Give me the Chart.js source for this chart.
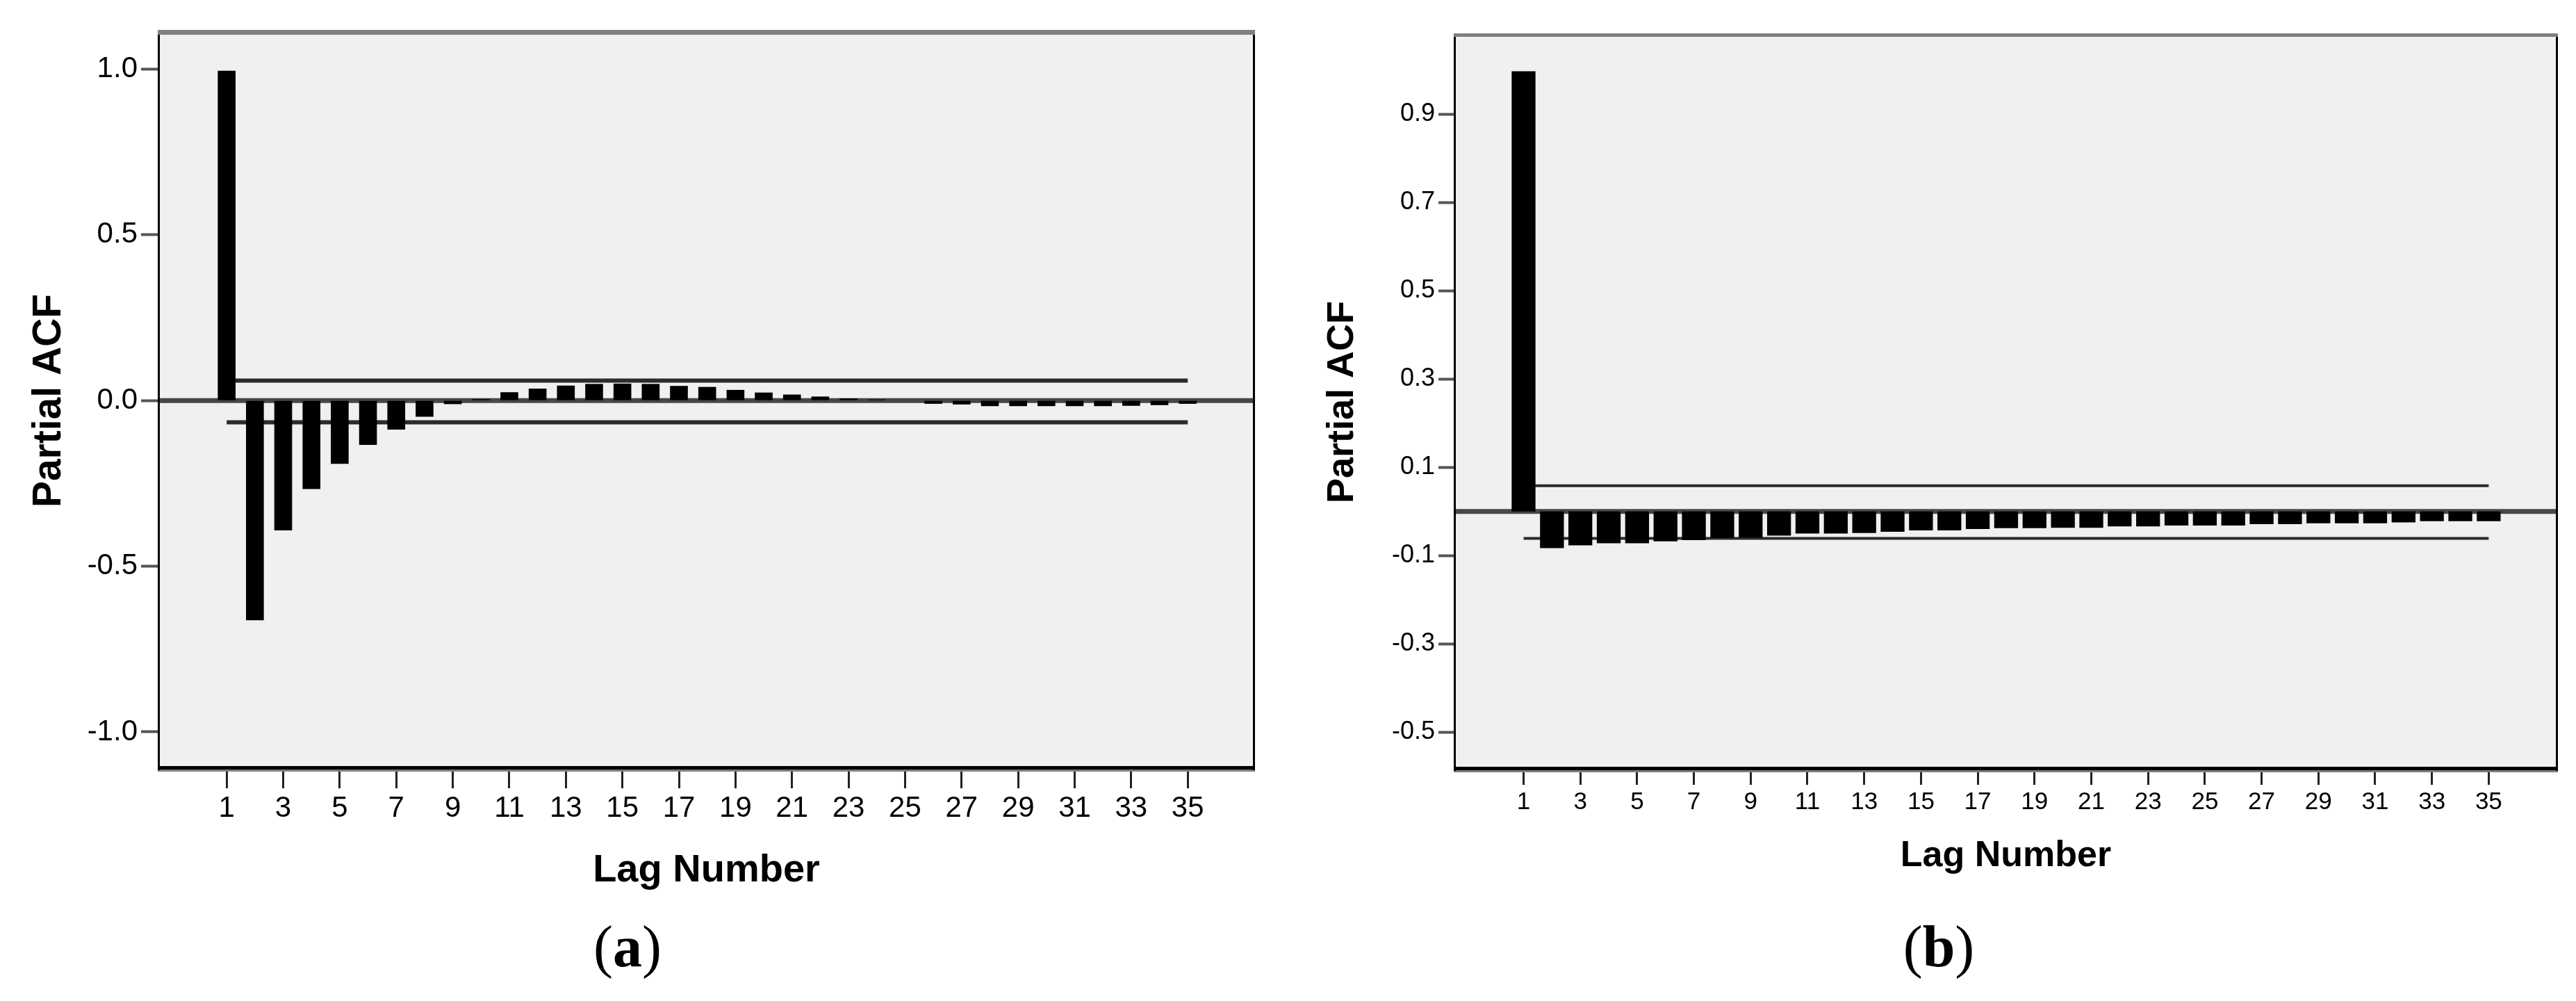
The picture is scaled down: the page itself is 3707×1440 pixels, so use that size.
<!DOCTYPE html>
<html>
<head>
<meta charset="utf-8">
<title>Partial ACF — (a) and (b)</title>
<script src="https://cdn.jsdelivr.net/npm/chart.js@4/dist/chart.umd.min.js"></script>
<style>
  html, body { margin: 0; padding: 0; background: #fff; }
  #page { position: relative; width: 3707px; height: 1440px; overflow: hidden; }
  canvas { position: absolute; top: 0; }
  #chart-a { left: 0; }
  #chart-b { left: 1850px; }
  .cap { position: absolute; top: 1319px; width: 200px; text-align: center;
         font: 84px/86px 'Liberation Serif', 'Times New Roman', serif; color: #000; }
</style>
</head>
<body>
<div id="page">
  <canvas id="chart-a" width="1850" height="1440"></canvas>
  <canvas id="chart-b" width="1857" height="1440"></canvas>
  <div class="cap" style="left:803px">(<b>a</b>)</div>
  <div class="cap" style="left:2690px">(<b>b</b>)</div>
</div>
<script>
// Lags shown on both panels, and the odd lags that carry a tick label.
const LAGS = [1, 2, 3, 4, 5, 6, 7, 8, 9, 10, 11, 12, 13, 14, 15, 16, 17, 18,
  19, 20, 21, 22, 23, 24, 25, 26, 27, 28, 29, 30, 31, 32, 33, 34, 35];
const X_TICKS = [1, 3, 5, 7, 9, 11, 13, 15, 17, 19, 21, 23, 25, 27, 29, 31, 33, 35];

// (a) partial autocorrelations.
const PACF_A = [0.995, -0.663, -0.392, -0.267, -0.191, -0.134, -0.088, -0.049, -0.011, 0.004,
  0.025, 0.036, 0.045, 0.050, 0.051, 0.050, 0.044, 0.041, 0.032, 0.024,
  0.018, 0.012, 0.006, 0.003, 0.001, -0.010, -0.012, -0.017, -0.017, -0.017,
  -0.017, -0.017, -0.016, -0.014, -0.010];
const CONF_A = [0.06, -0.066];           // upper / lower confidence limit
const Y_TICKS_A = [-1.0, -0.5, 0.0, 0.5, 1.0];

// (b) partial autocorrelations.
const PACF_B = [0.997, -0.083, -0.077, -0.072, -0.072, -0.068, -0.065, -0.060, -0.059, -0.055,
  -0.050, -0.050, -0.049, -0.046, -0.043, -0.043, -0.040, -0.038, -0.038, -0.037,
  -0.037, -0.034, -0.034, -0.032, -0.032, -0.032, -0.029, -0.029, -0.027, -0.027,
  -0.027, -0.025, -0.022, -0.022, -0.022];
const CONF_B = [0.058, -0.061];
const Y_TICKS_B = [-0.5, -0.3, -0.1, 0.1, 0.3, 0.5, 0.7, 0.9];

const SANS = "'Liberation Sans', Arial, Helvetica, sans-serif";

// SPSS-style plot frame: grey fill, grey top rule, black sides, black+grey bottom.
const spssFrame = {
  id: 'spssFrame',
  beforeDraw(chart) {
    const { ctx, chartArea: a } = chart;
    ctx.save();
    ctx.fillStyle = '#f0f0f0';
    ctx.fillRect(a.left, a.top, a.right - a.left, a.bottom - a.top);
    ctx.restore();
  },
  afterDraw(chart, args, o) {
    const { ctx, chartArea: a } = chart;
    const w = a.right - a.left + 4;
    ctx.save();
    ctx.fillStyle = '#7f7f7f';
    ctx.fillRect(a.left - 2, a.top - o.top, w, o.top);
    ctx.fillRect(a.left - 2, a.bottom + o.bottom - 1, w, 3);
    ctx.fillStyle = '#000';
    ctx.fillRect(a.left - 2, a.top, 3, a.bottom - a.top + o.bottom);
    ctx.fillRect(a.right - 1, a.top, 3, a.bottom - a.top + o.bottom);
    ctx.fillRect(a.left - 2, a.bottom - 1, w, o.bottom);
    ctx.restore();
  },
};

function hline(x0, x1, y, color, width, order) {
  return {
    type: 'line', data: [{ x: x0, y: y }, { x: x1, y: y }],
    borderColor: color, borderWidth: width, pointRadius: 0, order: order,
  };
}

function makeChart(id, p) {
  const first = LAGS[0], last = LAGS[LAGS.length - 1];
  return new Chart(document.getElementById(id), {
    type: 'bar',
    data: {
      datasets: [
        {
          type: 'bar', label: 'Partial ACF',
          data: LAGS.map((l, i) => ({ x: l, y: p.pacf[i] })),
          backgroundColor: '#000', borderWidth: 0,
          barPercentage: p.barPct, categoryPercentage: 1, order: 0,
        },
        hline(p.xMin, p.xMax, 0, '#474747', p.zeroW, 3),
        hline(first, last, p.conf[0], '#2b2b2b', p.confW, 2),
        hline(first, last, p.conf[1], '#2b2b2b', p.confW, 2),
      ],
    },
    options: {
      responsive: false,
      animation: false,
      devicePixelRatio: 1,
      layout: { padding: { left: 0, top: p.area.top, right: p.width - p.area.right, bottom: 0 } },
      plugins: {
        legend: { display: false },
        tooltip: { enabled: false },
        spssFrame: p.frame,
      },
      scales: {
        x: {
          type: 'linear', min: p.xMin, max: p.xMax, offset: false,
          afterBuildTicks: (s) => { s.ticks = X_TICKS.map((v) => ({ value: v })); },
          afterFit: (s) => { s.height = p.height - p.area.bottom; },
          grid: {
            offset: false, drawOnChartArea: false, drawTicks: true,
            tickLength: p.xTickLen, tickWidth: 3, tickColor: '#222',
          },
          border: { display: false },
          ticks: {
            padding: p.xTickPad, autoSkip: false, maxRotation: 0, color: '#000',
            font: { family: SANS, size: p.xTickSize, lineHeight: 1 },
            callback: (v) => String(v),
          },
          title: {
            display: true, text: 'Lag Number', color: '#000',
            font: { family: SANS, size: p.xTitleSize, weight: 'bold', lineHeight: 1 },
            padding: { top: 0, bottom: p.xTitlePad },
          },
        },
        y: {
          type: 'linear', min: p.yMin, max: p.yMax,
          afterBuildTicks: (s) => { s.ticks = p.yTicks.map((v) => ({ value: v })); },
          afterFit: (s) => { s.width = p.area.left; },
          grid: {
            offset: false, drawOnChartArea: false, drawTicks: true,
            tickLength: p.yTickLen, tickWidth: 4, tickColor: '#555',
          },
          border: { display: false },
          ticks: {
            padding: p.yTickPad, autoSkip: false, color: '#000',
            font: { family: SANS, size: p.yTickSize, lineHeight: 1 },
            callback: (v) => Number(v).toFixed(1),
          },
          title: {
            display: true, text: 'Partial ACF', color: '#000',
            font: { family: SANS, size: p.yTitleSize, weight: 'bold', lineHeight: 1 },
            padding: { top: p.yTitlePad, bottom: 0 },
          },
        },
      },
    },
    plugins: [spssFrame],
  });
}

makeChart('chart-a', {
  pacf: PACF_A, conf: CONF_A, yTicks: Y_TICKS_A,
  yMin: -1.105, yMax: 1.1035, xMin: -1.389, xMax: 37.33,
  width: 1850, height: 1440, area: { left: 229, top: 50, right: 1804, bottom: 1103 },
  frame: { top: 7, bottom: 5 },
  barPct: 0.63, zeroW: 7, confW: 6,
  xTickLen: 31, xTickPad: 8, xTickSize: 42, xTitleSize: 56, xTitlePad: 159,
  yTickLen: 26, yTickPad: 5, yTickSize: 42, yTitleSize: 57, yTitlePad: 43,
});

makeChart('chart-b', {
  pacf: PACF_B, conf: CONF_B, yTicks: Y_TICKS_B,
  yMin: -0.58, yMax: 1.075, xMin: -1.411, xMax: 37.39,
  width: 1857, height: 1440, area: { left: 244, top: 53, right: 1829, bottom: 1104 },
  frame: { top: 5, bottom: 5 },
  barPct: 0.84, zeroW: 7, confW: 4,
  xTickLen: 25, xTickPad: 8, xTickSize: 35, xTitleSize: 52, xTitlePad: 182,
  yTickLen: 24, yTickPad: 5, yTickSize: 36, yTitleSize: 54, yTitlePad: 55,
});
</script>
</body>
</html>
